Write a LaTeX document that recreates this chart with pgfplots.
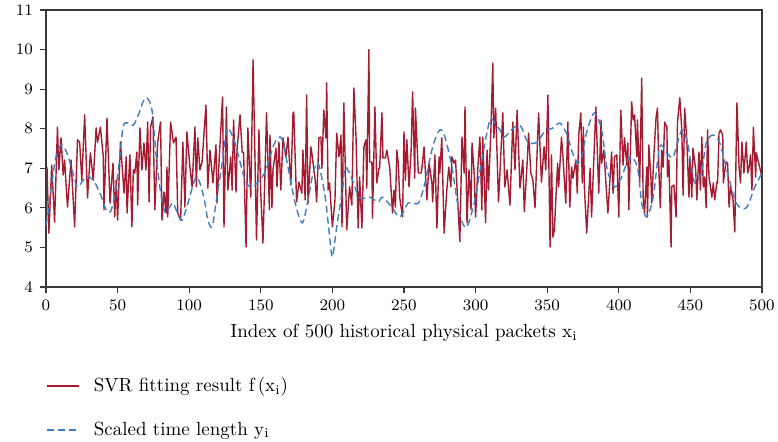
\documentclass[border=0pt]{standalone}
\usepackage{pgfplots}
\pgfplotsset{compat=1.18}
\definecolor{svr}{HTML}{A51C30}
\definecolor{scl}{HTML}{3D7EC6}
\definecolor{axgray}{HTML}{3A3A3A}
\begin{document}
\begin{tikzpicture}
\begin{axis}[name=ax, scale only axis, width=358pt, height=138.5pt,
  xmin=0, xmax=500, ymin=4, ymax=11,
  xtick={0,50,...,500}, ytick={4,5,...,11},
  tick align=outside, xtick pos=bottom, ytick pos=left, major tick length=3pt,
  axis line style={axgray, line width=0.8pt}, tick style={axgray, line width=0.6pt},
  tick label style={font=\fontsize{8.5}{10}\selectfont},
  xlabel={Index of 500 historical physical packets x\textsubscript{i}},
  xlabel style={font=\fontsize{9.5}{11}\selectfont},
  legend style={at={(0,0)}, anchor=north west, draw=none, fill=none, yshift=-43pt,
    font=\fontsize{9.5}{11}\selectfont, row sep=9.5pt, inner sep=0pt},
  legend cell align=left,
  legend image code/.code={\draw[#1] (0pt,0pt) -- (16pt,0pt);},
]
\addplot[svr, line width=0.7pt, line join=round] coordinates {
(0.7,7.03)(2,5.36)(4,7.08)(6,5.64)(8,8.04)(9,6.96)(10.5,7.77)(12,6.83)(13,7.21)(15,6.02)(17.5,7.21)(20,5.52)(22,7.72)(23.5,7.66)(25,6.70)(27,8.35)(29,6.25)(31,7.39)(33,6.70)(35,8.02)(36,7.66)(38,8.04)
(40,7.29)(40.5,5.95)(42.6,8.27)(44.7,6.12)(46.8,7.13)(48,5.77)(49,6.70)(50,5.69)(52,7.66)(54.5,6.37)(56,7.29)(56.6,5.87)(58.6,7.34)(60,5.52)(61,6.96)(62,6.88)(63.5,7.41)(64,6.07)(65.6,8.02)(67,6.96)(68.4,7.64)(69.8,6.96)(71,8.17)(72,6.15)(73,8.04)(74.7,8.30)(76,5.95)(78,7.66)(80,8.17)
(81,5.69)(82.4,6.40)(83.8,5.87)(84.5,7.03)(85,5.77)(87,8.17)(89,7.64)(90.8,7.79)(92,5.87)(94,5.69)(95.6,7.66)(97,6.02)(98.4,7.92)(100.5,7.03)(102,6.53)(104,8.04)(105,6.53)(106,7.77)(107.5,6.96)(109,7.16)(111.7,8.60)(113,6.50)(114.5,7.46)(116.6,6.63)(118.7,7.59)(119.4,6.12)(120.8,7.13)
(123.3,8.80)(124.3,5.52)(126,8.55)(127,6.45)(129,7.29)(130,6.45)(131,8.22)(132.7,6.40)(133.4,7.46)(135.5,8.35)(137,7.41)(138,7.39)(139.7,5.01)(141,8.02)(143,6.27)(144.6,9.74)(146,7.13)(147,5.19)(148.7,7.97)(150,6.37)(151.5,5.11)(153,6.96)(154,8.40)(156,5.95)(156.4,7.84)(157.8,6.00)(158.5,6.96)(160.6,7.51)(161.3,6.53)(162.7,7.66)(164,6.45)
(165.5,7.77)(167.5,7.29)(169,7.79)(171,6.58)(172.5,8.40)(173,8.42)(175,6.15)(176.6,6.65)(178.7,6.37)(179.4,7.46)(181,6.20)(182,8.85)(183,6.12)(185,7.54)(186,7.29)(188,6.70)(189,6.15)(190.6,7.77)(192,7.79)(192.7,7.0)(194,8.47)(195.5,7.77)(196,9.16)(197,6.45)(198,6.63)(200,5.52)(201.8,6.20)(203,7.89)(204.6,7.29)(206,7.84)
(206.7,5.52)(208,8.65)(210,5.44)(212,6.53)(213.6,6.07)(215,9.03)(216.5,7.79)(218,5.49)(219,6.78)(220.6,5.49)(222,7.54)(223.4,7.72)(224,6.50)(225.5,10.0)(226,7.16)(227.6,7.16)(228,5.74)(229.7,8.55)(231,6.63)(232.5,7.0)(233,7.0)(234.6,8.40)(235.3,7.26)(237,7.26)(238,7.46)(240,7.03)(242,5.87)(243,6.45)(244,6.02)(245,7.46)(246,7.13)
(247,6.27)(249,5.77)(250,7.92)(251,6.70)(252,7.72)(253.5,6.53)(255,7.46)(256,8.93)(257.5,6.75)(258,8.52)(260,6.88)(262,6.88)(262.6,7.03)(264,7.54)(266,6.20)(267.5,7.13)(269.5,6.63)(270,6.15)(271.6,7.34)(273,5.49)(274.5,7.29)(275,6.88)(276.4,7.77)(278,5.36)(280,6.50)(281.3,7.03)(282.7,6.53)(283.5,7.29)(285,7.13)(286,7.21)(289,5.15)(290.5,7.79)
(292,6.88)(292.6,8.55)(294,5.62)(295.4,6.96)(296.8,5.95)(297.5,7.64)(299,6.88)(300,5.77)(301.6,7.03)(303,7.79)(304.4,5.95)(305,7.79)(307,5.62)(308,7.46)(309,6.45)(310.7,7.97)(312,9.66)(312.7,7.77)(314,8.52)(316,6.15)(317,6.88)(319,8.40)(320.4,6.53)(322,6.96)(324,6.07)(326,8.17)(327.5,6.96)(329,8.47)(331,6.50)
(333,7.21)(334,5.90)(336,7.13)(337,7.89)(338.6,6.88)(340,6.70)(341.5,6.00)(344,8.40)(346,6.65)(347.8,7.54)(349,6.96)(350.5,8.85)(352,5.01)(353,7.34)(354,5.26)(355,5.44)(356.6,6.63)(357.3,7.13)(358,6.53)(360,7.79)(361,7.29)(363,6.12)(364.4,8.17)(365.8,6.02)(367,7.03)(368,6.75)(370,7.21)(371,6.37)(372,7.84)(373.5,8.40)
(374.5,6.63)(375.3,8.04)(376,6.50)(377.6,5.36)(380,7.0)(381,5.77)(384,8.55)(386,6.37)(387.6,8.22)(388,7.13)(389.6,7.46)(391,6.63)(392.4,5.87)(395,7.41)(396,6.37)(397,7.29)(398.6,7.34)(400,5.77)(401.4,8.47)(403,7.08)(404,7.77)(405.6,7.08)(406.3,7.64)(407,5.95)(409,8.68)(410,8.22)(411,8.35)(412.6,7.29)(413,8.22)(414.6,6.63)
(416,9.28)(417,6.27)(418,5.87)(419.6,7.03)(420,5.77)(421,7.59)(422.4,6.78)(423,6.12)(424.6,7.39)(426,8.27)(427,8.52)(428,6.96)(429,6.0)(430,7.46)(431,7.03)(432,8.17)(433.6,8.04)(434,6.78)(435,7.21)(436.5,5.01)(437,6.53)(438.5,6.58)(440,5.77)(441,8.17)(442.6,8.78)(444,7.97)(444.9,6.32)(446,8.52)(447.6,7.64)(449,6.27)(449.7,7.26)(451,6.27)(451.8,7.51)(453.7,6.96)(454.5,6.20)(456,7.41)(457,6.45)(458,7.79)
(459,6.53)(460,6.78)(461,6.0)(462,7.97)(463,6.78)(464,6.53)(465,6.27)(466,6.63)(467,6.20)(468.5,6.65)(469,6.63)(470,7.89)(471,7.97)(472.6,7.84)(473,6.63)(474.8,7.16)(476,7.13)(477,6.02)(478,6.53)(479.8,6.20)(481,5.39)(482.5,8.65)(484,7.03)(485,6.63)(486,7.66)(487.4,6.88)(489,7.66)(490,6.88)(491,7.03)(492,7.34)(493,6.45)(494,8.04)(495.6,6.78)(496,7.39)(497.7,7.13)(500,6.78)
};
\addlegendentry{\hspace{5pt}SVR fitting result f\,(x\textsubscript{i})}
\addplot[scl, line width=0.7pt, dash pattern=on 3.5pt off 2pt, smooth, tension=0.5] coordinates {
(0,5.55)(1.4,5.87)(4,6.6)(7,7.3)(11,7.59)(15,7.35)(19,6.85)(22,6.53)(26,6.7)(29,6.8)(34,6.65)(39,6.25)(42,5.95)(45,5.9)(48,6.3)(51,7.1)(53.8,8.04)(57,8.15)(60.8,8.09)(64,8.3)(68,8.7)(70.5,8.78)(74,8.47)(77,7.3)(80,6.4)(83,5.9)(86,6.0)(88.7,6.12)(92,5.85)(95,5.69)(99,6.1)(105,6.78)(110,6.3)(113,5.7)(116,5.52)(119,6.2)(123,7.13)(125,7.7)(127,8.02)(132,7.64)(139,6.70)(144,6.53)(151,6.78)(155,7.1)(158.5,7.54)(162,7.77)(165,7.72)(169,7.03)(174,6.12)(179,5.62)(183,6.2)(186,6.8)(189,7.13)(191,7.03)(195,6.27)(198,5.3)(200,4.76)(203,5.52)(207,6.45)(209,7.03)(214,6.70)(219,6.25)(226,6.27)(232,6.15)(235,6.27)(241.5,6.02)(247,5.77)(253,6.12)(260,6.12)(264.6,6.63)(270,7.54)(275,7.97)(278.6,7.79)(283.5,7.03)(287,6.2)(290,5.69)(294,5.52)(299.5,6.2)(304,7.13)(310,8.22)(314,8.1)(317,7.97)(320,7.79)(325,7.97)(329.5,8.09)(332,8.04)(336.5,7.66)(343,7.66)(348,7.92)(354,8.02)(359,8.14)(364,7.84)(367,7.46)(371,7.13)(374,7.29)(378,7.97)(383,8.40)(388,7.97)(392,6.96)(397,6.53)(402,6.78)(407.5,7.29)(413,7.03)(416,6.12)(419.5,5.77)(424,6.27)(428.6,7.54)(433.5,7.39)(438,7.29)(444,7.97)(448,7.64)(453,6.63)(458,6.96)(461,7.64)(465.6,7.84)(470.5,7.64)(476,6.88)(482,6.12)(489,6.0)(495,6.53)(500,6.88)
};
\addlegendentry{\hspace{5pt}Scaled time length y\textsubscript{i}}
\end{axis}
\pgfresetboundingbox
\path (ax.south west) ++(-23pt,-77.5pt) rectangle ++(389pt,221pt);
\end{tikzpicture}
\end{document}
